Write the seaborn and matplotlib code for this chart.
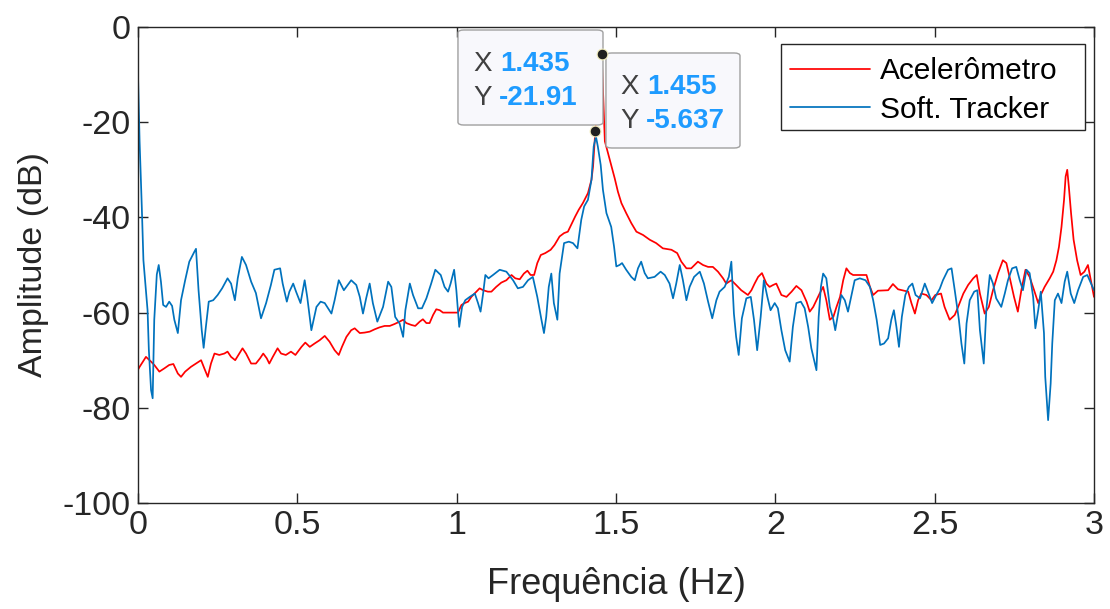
import numpy as np
import pandas as pd
import matplotlib
matplotlib.use("Agg")
import matplotlib.pyplot as plt
import seaborn as sns
from matplotlib.patches import FancyBboxPatch, Rectangle

# ---------------- data ----------------
acc_freq = [0, 0.005, 0.025, 0.041, 0.051, 0.067, 0.083, 0.098, 0.111, 0.125, 0.135, 0.148, 0.166, 0.182,
            0.198, 0.208, 0.219, 0.229, 0.24, 0.255, 0.271, 0.281, 0.292, 0.305, 0.318, 0.328, 0.339, 0.355,
            0.37, 0.383, 0.393, 0.404, 0.412, 0.423, 0.438, 0.449, 0.464, 0.48, 0.494, 0.513, 0.525, 0.539,
            0.554, 0.57, 0.586, 0.601, 0.617, 0.63, 0.64, 0.654, 0.669, 0.68, 0.696, 0.711, 0.727, 0.743,
            0.758, 0.774, 0.79, 0.805, 0.821, 0.832, 0.842, 0.858, 0.87, 0.884, 0.894, 0.905, 0.915, 0.926,
            0.936, 0.947, 0.957, 0.978, 1.004, 1.015, 1.025, 1.036, 1.046, 1.062, 1.072, 1.083, 1.098, 1.109,
            1.124, 1.14, 1.156, 1.172, 1.184, 1.198, 1.211, 1.222, 1.232, 1.243, 1.253, 1.264, 1.278, 1.295,
            1.307, 1.323, 1.337, 1.349, 1.362, 1.372, 1.383, 1.396, 1.412, 1.423, 1.428, 1.435, 1.445, 1.455,
            1.465, 1.475, 1.485, 1.496, 1.506, 1.517, 1.532, 1.548, 1.564, 1.585, 1.606, 1.626, 1.647, 1.674,
            1.692, 1.705, 1.721, 1.736, 1.757, 1.773, 1.789, 1.804, 1.82, 1.836, 1.846, 1.862, 1.877, 1.893,
            1.914, 1.925, 1.935, 1.946, 1.958, 1.972, 1.982, 1.993, 2.003, 2.019, 2.035, 2.051, 2.066, 2.082,
            2.098, 2.108, 2.119, 2.129, 2.139, 2.15, 2.16, 2.171, 2.182, 2.192, 2.203, 2.213, 2.223, 2.234,
            2.244, 2.286, 2.297, 2.307, 2.322, 2.354, 2.369, 2.385, 2.417, 2.427, 2.438, 2.448, 2.458, 2.474,
            2.49, 2.502, 2.52, 2.531, 2.547, 2.563, 2.576, 2.59, 2.605, 2.621, 2.632, 2.642, 2.657, 2.67,
            2.683, 2.699, 2.714, 2.725, 2.735, 2.749, 2.761, 2.772, 2.785, 2.798, 2.812, 2.825, 2.835, 2.845,
            2.861, 2.872, 2.882, 2.89, 2.898, 2.906, 2.911, 2.916, 2.921, 2.928, 2.936, 2.947, 2.958, 2.97,
            2.981, 2.99, 3.0]
acc_db = [-72, -71.4, -69.3, -70.3, -71, -72.4, -71.7, -71, -70.8, -72.8, -73.5, -72.4, -71.4, -70.7,
          -70, -71.7, -73.5, -70.7, -68.6, -68.9, -68.6, -68.2, -69.3, -70, -68.6, -67.5, -68.6, -70.7,
          -70.7, -69.6, -68.6, -69.6, -70.7, -69.3, -67.5, -68.6, -68.9, -68.2, -68.9, -67.2, -66.3, -67.2,
          -66.5, -65.8, -64.9, -66.1, -67.9, -68.9, -67.2, -65.1, -63.7, -63.3, -64.3, -64.2, -64, -63.5,
          -63.1, -62.8, -62.8, -62.4, -61.9, -61.5, -62.2, -62.6, -62.8, -61.9, -61.4, -62.2, -62.2, -60.5,
          -59.3, -59.5, -60, -60, -60, -58.4, -58, -57.7, -56.7, -55.6, -54.9, -55.3, -55.6, -55.6,
          -54.6, -53.7, -53.2, -52.1, -52.8, -53, -51.8, -51.2, -52.1, -52.1, -49.6, -47.9, -47.5, -46.8,
          -45.8, -44, -43.3, -43, -41.2, -39.8, -38.4, -37, -34.9, -32.1, -29.3, -21.91, -12, -5.637,
          -24, -26.5, -29, -31.8, -34.6, -37, -39.1, -41.2, -43, -43.7, -44.7, -45.4, -46.5, -46.8,
          -47.5, -49.3, -50.7, -50.7, -49.3, -50, -50.4, -50.4, -51.4, -52.8, -53.9, -53.2, -54.2, -55.3,
          -56.3, -55.3, -53.9, -52.5, -51.7, -53.9, -54.6, -54.2, -53.9, -56.3, -56.7, -55.6, -54.4, -55.3,
          -57.7, -59.8, -58.8, -57.4, -56, -54.6, -57.4, -61.5, -60.9, -58.8, -56.7, -53.2, -50.7, -51.7,
          -52.1, -52.1, -54.6, -56.3, -55.4, -55.3, -54, -55.1, -55.6, -58, -60.2, -57.4, -56, -56.3,
          -57.4, -56.3, -56, -58.8, -61.5, -60.5, -58.4, -56, -54.2, -52.8, -52.1, -56, -60.2, -58.8,
          -55.3, -51.7, -49, -49.6, -52.5, -56.7, -59.8, -55.3, -51, -52.5, -55.3, -58, -56, -54.6,
          -52.8, -51.4, -49, -46.2, -42, -36.3, -31.4, -30, -33.5, -39.1, -44.7, -49, -52.1, -51.4,
          -50, -53.2, -56.7]

trk_freq = [0, 0.005, 0.012, 0.017, 0.03, 0.034, 0.041, 0.046, 0.051, 0.059, 0.065, 0.072, 0.079, 0.088,
            0.098, 0.107, 0.114, 0.125, 0.135, 0.148, 0.161, 0.177, 0.182, 0.19, 0.2, 0.206, 0.213, 0.222,
            0.236, 0.25, 0.264, 0.281, 0.292, 0.304, 0.313, 0.326, 0.339, 0.355, 0.37, 0.386, 0.402, 0.417,
            0.428, 0.446, 0.454, 0.467, 0.475, 0.487, 0.496, 0.51, 0.523, 0.531, 0.544, 0.56, 0.573, 0.586,
            0.607, 0.617, 0.63, 0.646, 0.669, 0.685, 0.696, 0.706, 0.716, 0.727, 0.737, 0.751, 0.769, 0.785,
            0.795, 0.807, 0.821, 0.832, 0.839, 0.853, 0.863, 0.879, 0.891, 0.905, 0.92, 0.933, 0.95, 0.962,
            0.973, 0.981, 0.992, 0.999, 1.008, 1.017, 1.027, 1.041, 1.057, 1.067, 1.075, 1.083, 1.09, 1.1,
            1.114, 1.135, 1.156, 1.177, 1.192, 1.208, 1.224, 1.239, 1.253, 1.266, 1.274, 1.281, 1.289, 1.297,
            1.305, 1.316, 1.323, 1.337, 1.352, 1.365, 1.379, 1.391, 1.4, 1.412, 1.423, 1.43, 1.437, 1.443,
            1.452, 1.459, 1.47, 1.485, 1.494, 1.501, 1.511, 1.519, 1.532, 1.548, 1.559, 1.569, 1.579, 1.59,
            1.6, 1.621, 1.64, 1.653, 1.668, 1.679, 1.689, 1.7, 1.71, 1.721, 1.731, 1.745, 1.763, 1.776,
            1.789, 1.802, 1.815, 1.825, 1.841, 1.854, 1.862, 1.87, 1.877, 1.885, 1.895, 1.909, 1.923, 1.933,
            1.943, 1.954, 1.964, 1.975, 1.985, 1.998, 2.008, 2.019, 2.031, 2.045, 2.055, 2.066, 2.08, 2.092,
            2.103, 2.113, 2.124, 2.129, 2.136, 2.143, 2.15, 2.16, 2.171, 2.182, 2.188, 2.197, 2.207, 2.218,
            2.228, 2.238, 2.249, 2.265, 2.283, 2.297, 2.307, 2.318, 2.329, 2.341, 2.354, 2.364, 2.372, 2.38,
            2.388, 2.397, 2.408, 2.419, 2.43, 2.44, 2.454, 2.469, 2.481, 2.492, 2.505, 2.516, 2.526, 2.542,
            2.553, 2.563, 2.576, 2.584, 2.593, 2.6, 2.61, 2.624, 2.634, 2.642, 2.649, 2.654, 2.662, 2.673,
            2.683, 2.693, 2.709, 2.72, 2.73, 2.743, 2.756, 2.767, 2.777, 2.788, 2.798, 2.809, 2.816, 2.825,
            2.833, 2.843, 2.847, 2.856, 2.864, 2.869, 2.877, 2.887, 2.898, 2.908, 2.916, 2.927, 2.938, 2.95,
            2.966, 2.979, 2.991, 3.0]
trk_db = [-10, -24, -38, -49, -59.5, -67.8, -76.3, -78, -61.5, -52, -50, -53.5, -58.4, -58.8,
          -57.7, -58.6, -61.5, -64.3, -57.4, -53.2, -49.3, -47.2, -46.6, -55.3, -63.7, -67.4, -63, -57.7,
          -57.4, -56.3, -54.9, -52.8, -53.9, -57.4, -52.8, -48.3, -50, -53.5, -55.9, -61.2, -58, -54.2,
          -51, -50.7, -53.9, -57.7, -55.6, -53.9, -55.6, -58, -53.2, -56.7, -63.7, -58.8, -57.7, -58,
          -60.2, -57.4, -53.2, -55.3, -53.2, -54.2, -56.7, -60.2, -57, -53.9, -58, -61.9, -58.8, -53.5,
          -54.6, -60.9, -62.3, -65.1, -59.5, -53.9, -56.3, -59.1, -59.1, -57, -53.9, -51, -52.1, -54.6,
          -55.6, -53.9, -51, -55.3, -63, -58.8, -57.4, -56.7, -56, -58, -59.8, -56, -52.1, -52.8,
          -52.1, -51, -51.4, -53.2, -54.9, -54.6, -53.2, -52.5, -56.7, -61.5, -64.3, -60.9, -54.6, -51.8,
          -58, -61.5, -51.8, -45.4, -45.1, -45.4, -46.5, -40.5, -37.7, -36.3, -32.1, -25.1, -23, -25.1,
          -29, -34.2, -39.1, -42, -46.2, -50.3, -50, -49.6, -51, -52.5, -53.2, -50.7, -49.3, -51.7,
          -52.8, -52.5, -51.4, -52.1, -53.9, -57, -53.9, -50, -53.2, -57.4, -54.6, -52.5, -51.4, -53.9,
          -57.7, -61.2, -57.4, -55.6, -54.6, -52.5, -49.3, -60.2, -65.1, -68.9, -61.2, -57, -56.7, -61.5,
          -67.9, -60.9, -53.2, -56.7, -59.5, -58, -59.1, -63.7, -67.9, -70.3, -63, -58, -57.7, -59.1,
          -63, -67.5, -70.7, -72.1, -60.9, -54.6, -51.8, -52.8, -58.8, -61.5, -63.7, -60.2, -56.3, -57.4,
          -59.8, -56.7, -53.2, -52.8, -53.2, -54.6, -57.4, -61.5, -66.8, -66.5, -65.4, -61.5, -59.5, -63,
          -67.2, -60.9, -56.3, -54.6, -53.9, -56.3, -57, -53.9, -56, -58, -56.3, -55, -53.2, -51,
          -50.7, -55.3, -61.5, -66.5, -70.7, -62.3, -57.4, -55.6, -55.3, -63.7, -67.9, -70.7, -59.5, -52.1,
          -53.9, -57, -58.8, -56, -53.2, -50.7, -50.4, -53.2, -55.3, -51, -51.7, -56.7, -63.3, -59.5,
          -55.6, -64.3, -73.5, -82.6, -74.9, -66.5, -57.4, -56, -58, -53.5, -51.4, -56, -58, -55.3,
          -52.5, -52.1, -53.9, -55.3]

series_names = ["Acelerômetro", "Soft. Tracker"]
series_colors = ["#FF0000", "#0072BD"]
x_ticks = [0, 0.5, 1, 1.5, 2, 2.5, 3]
x_tick_labels = ["0", "0.5", "1", "1.5", "2", "2.5", "3"]
y_ticks = [-100, -80, -60, -40, -20, 0]
y_tick_labels = ["-100", "-80", "-60", "-40", "-20", "0"]
tip_x = [1.435, 1.455]
tip_y = [-21.91, -5.637]
tip_x_text = ["1.435", "1.455"]
tip_y_text = ["-21.91", "-5.637"]

df = pd.concat([
    pd.DataFrame({"f": acc_freq, "db": acc_db, "s": series_names[0]}),
    pd.DataFrame({"f": trk_freq, "db": trk_db, "s": series_names[1]}),
], ignore_index=True)

# ---------------- plot ----------------
sns.set_style("white")
plt.rcParams["font.family"] = ["Liberation Sans", "DejaVu Sans"]

fig = plt.figure(figsize=(11.10, 6.09), dpi=100)
ax = fig.add_axes([138 / 1110, 1 - 503 / 609, (1094 - 138) / 1110, (503 - 27) / 609])

sns.lineplot(data=df, x="f", y="db", hue="s", hue_order=series_names,
             palette=series_colors, estimator=None, sort=False, linewidth=1.25, ax=ax)

ax.set_xlim(0, 3)
ax.set_ylim(-100, 0)
ax.set_xticks(x_ticks)
ax.set_xticklabels(x_tick_labels)
ax.set_yticks(y_ticks)
ax.set_yticklabels(y_tick_labels)
ax.tick_params(direction="in", length=7, width=1, colors="#262626", labelsize=24.5,
               top=True, right=True, bottom=True, left=True, pad=5)
for sp in ax.spines.values():
    sp.set_visible(True)
    sp.set_color("#262626")
    sp.set_linewidth(1.0)
ax.set_xlabel("Frequência (Hz)", fontsize=26, color="#262626", labelpad=19)
ax.set_ylabel("Amplitude (dB)", fontsize=24.5, color="#262626", labelpad=10)

# legend: entries without frame + MATLAB-like box
leg = ax.legend(loc="upper left", bbox_to_anchor=(0.682, 0.937), fontsize=21.5,
                frameon=False, handlelength=2.68, borderpad=0.0, labelspacing=0.36,
                handletextpad=0.33, borderaxespad=0)
for t in leg.get_texts():
    t.set_color("#000000")
for h in leg.get_lines():
    h.set_linewidth(1.25)
ax.add_patch(Rectangle((0.6726, 0.7836), 0.318, 0.1807, transform=ax.transAxes,
                       facecolor="white", edgecolor="#262626", linewidth=1.0, zorder=4))
leg.set_zorder(8)

# data tips
boxes = [(0.3347, 0.7941, 0.1517, 0.1996), (0.4895, 0.7458, 0.1402, 0.1996)]
text_pos = [((0.3505, 0.9228), (0.3505, 0.8508)), ((0.5045, 0.8745), (0.5045, 0.8025))]
for i in range(2):
    bx, by, bw, bh = boxes[i]
    patch = FancyBboxPatch((bx, by), bw, bh, boxstyle="round,pad=0,rounding_size=0.006",
                           transform=ax.transAxes, facecolor="#F8F8FC", edgecolor="#A0A0A0",
                           linewidth=1.0, zorder=5, clip_on=False)
    ax.add_patch(patch)
    (xx, xy), (yx, yy) = text_pos[i]
    ax.text(xx, xy, "X", transform=ax.transAxes, fontsize=20, color="#404040", va="center", zorder=6)
    ax.text(xx + 0.0285, xy, tip_x_text[i], transform=ax.transAxes, fontsize=20, color="#1E9BFF",
            fontweight="bold", va="center", zorder=6)
    ax.text(yx, yy, "Y", transform=ax.transAxes, fontsize=20, color="#404040", va="center", zorder=6)
    ax.text(yx + 0.0265, yy, tip_y_text[i], transform=ax.transAxes, fontsize=20, color="#1E9BFF",
            fontweight="bold", va="center", zorder=6)

ax.scatter(tip_x, tip_y, s=60, color="#202020", edgecolor="#F5F0C0", linewidth=0.8, zorder=7)

fig.savefig("out.png", dpi=100, facecolor="white")
